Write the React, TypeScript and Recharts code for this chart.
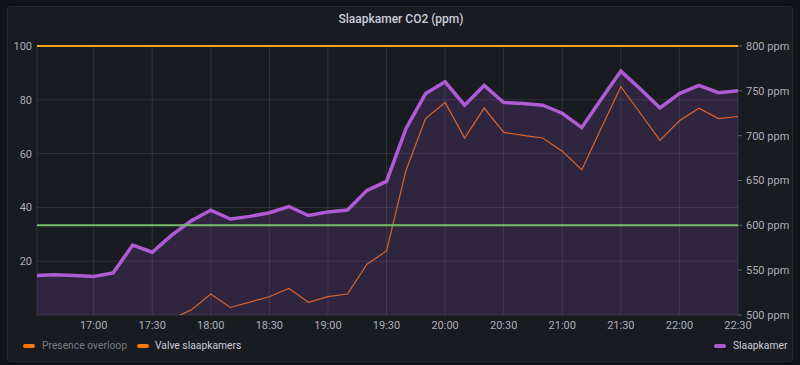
import {
  ComposedChart,
  Area,
  Line,
  XAxis,
  YAxis,
  CartesianGrid,
  ReferenceLine,
} from "recharts";

// sample times (10 min interval, first point is the edge of the range)
const times = [
  "16:31", "16:40", "16:50", "17:00", "17:10", "17:20", "17:30", "17:40", "17:50",
  "18:00", "18:10", "18:20", "18:30", "18:40", "18:50", "19:00", "19:10", "19:20",
  "19:30", "19:40", "19:50", "20:00", "20:10", "20:20", "20:30", "20:40", "20:50",
  "21:00", "21:10", "21:20", "21:30", "21:40", "21:50", "22:00", "22:10", "22:20",
  "22:30",
];

// Slaapkamer CO2 in ppm (right axis)
const slaapkamerPpm = [
  544, 545, 544, 543, 547, 578, 570, 589, 605,
  617, 607, 610, 614, 621, 611, 615, 617, 639,
  649, 708, 747, 760, 734, 756, 737, 736, 734,
  725, 709, 741, 772, 752, 731, 747, 756, 748,
  750,
];

// Valve slaapkamers in % (left axis)
const valveSlaapkamers: (number | null)[] = [
  null, null, null, null, null, null, null, -1.5, 1.9,
  7.8, 2.8, 4.8, 6.8, 9.9, 4.7, 6.8, 7.8, 18.9,
  23.8, 53.8, 73, 79, 65.8, 76.9, 67.9, 66.8, 65.8,
  60.9, 54, 69.5, 84.9, 75, 64.9, 72.2, 76.9, 73,
  73.8,
];

const xTickLabels = [
  "17:00", "17:30", "18:00", "18:30", "19:00", "19:30",
  "20:00", "20:30", "21:00", "21:30", "22:00", "22:30",
];
const leftTicks = [20, 40, 60, 80, 100];
const rightTicks = [500, 550, 600, 650, 700, 750, 800];
const thresholdsPpm = [800, 600];
const thresholdColors = ["#f2a41c", "#73bf69"];

const toMinutes = (hhmm: string) => {
  const [h, m] = hhmm.split(":").map(Number);
  return h * 60 + m;
};
const fmtTime = (v: number) =>
  `${Math.floor(v / 60)}:${String(v % 60).padStart(2, "0")}`;

const data = times.map((t, i) => ({
  t: toMinutes(t),
  co2: slaapkamerPpm[i],
  valve: valveSlaapkamers[i],
}));

const FONT = "Roboto, 'Noto Sans', sans-serif";
const TEXT = "#ccccdc";
const tickStyle = { fill: "rgba(204,204,220,0.85)", fontSize: 11, fontFamily: FONT };

function LegendItem({
  x,
  textX,
  color,
  label,
  dim,
}: {
  x: number;
  textX: number;
  color: string;
  label: string;
  dim?: boolean;
}) {
  return (
    <>
      <span
        style={{
          position: "absolute",
          left: x,
          top: 344,
          width: 12,
          height: 4,
          borderRadius: 2,
          background: color,
        }}
      />
      <span
        style={{
          position: "absolute",
          left: textX,
          top: 338,
          fontSize: 10.3,
          lineHeight: "16px",
          whiteSpace: "nowrap",
          color: dim ? "rgba(204,204,220,0.55)" : TEXT,
        }}
      >
        {label}
      </span>
    </>
  );
}

export default function App() {
  return (
    <div
      style={{
        position: "absolute",
        left: 0,
        top: 0,
        width: 800,
        height: 365,
        background: "#111217",
        fontFamily: FONT,
        overflow: "hidden",
      }}
    >
      <div
        style={{
          position: "absolute",
          left: 7,
          top: 6,
          width: 784,
          height: 354,
          background: "#181b1f",
          border: "1px solid #25272d",
          borderRadius: 3,
        }}
      />
      <div
        style={{
          position: "absolute",
          left: 0,
          top: 10,
          width: 802,
          textAlign: "center",
          color: TEXT,
          fontSize: 12,
          lineHeight: "18px",
          fontWeight: 500,
        }}
      >
        Slaapkamer CO2 (ppm)
      </div>
      <div style={{ position: "absolute", left: 0, top: 0 }}>
        <ComposedChart
          width={800}
          height={365}
          data={data}
          margin={{ top: 46, right: 0, bottom: 30, left: 0 }}
        >
          <CartesianGrid
            yAxisId="left"
            stroke="rgba(204,204,220,0.13)"
            strokeWidth={1}
          />
          <XAxis
            dataKey="t"
            type="number"
            domain={[toMinutes(times[0]), toMinutes(times[times.length - 1])]}
            ticks={xTickLabels.map(toMinutes)}
            tickFormatter={fmtTime}
            axisLine={false}
            tickLine={false}
            tickSize={0}
            tickMargin={6}
            height={20}
            tick={tickStyle}
            allowDataOverflow
          />
          <YAxis
            yAxisId="left"
            orientation="left"
            domain={[0, 100]}
            ticks={leftTicks}
            width={37}
            axisLine={false}
            tickLine={false}
            tickSize={0}
            tickMargin={5}
            tick={tickStyle}
            allowDataOverflow
          />
          <YAxis
            yAxisId="right"
            orientation="right"
            domain={[500, 800]}
            ticks={rightTicks}
            tickFormatter={(v: number) => `${v} ppm`}
            width={62}
            axisLine={false}
            tickLine={{ stroke: "rgba(204,204,220,0.4)" }}
            tickSize={4}
            tickMargin={4}
            tick={tickStyle}
            allowDataOverflow
          />
          <Area
            yAxisId="right"
            type="linear"
            dataKey="co2"
            stroke="#b05bd6"
            strokeWidth={3.5}
            fill="#a352cc"
            fillOpacity={0.18}
            isAnimationActive={false}
            dot={false}
            activeDot={false}
          />
          <Line
            yAxisId="left"
            type="linear"
            dataKey="valve"
            stroke="#dc652b"
            strokeWidth={1.2}
            dot={false}
            activeDot={false}
            isAnimationActive={false}
          />
          {thresholdsPpm.map((v, i) => (
            <ReferenceLine
              key={v}
              yAxisId="right"
              y={v}
              stroke={thresholdColors[i]}
              strokeWidth={2}
              ifOverflow="extendDomain"
            />
          ))}
        </ComposedChart>
      </div>
      <LegendItem x={23} textX={42} color="#ff780a" label="Presence overloop" dim />
      <LegendItem x={137} textX={155} color="#ff780a" label="Valve slaapkamers" />
      <LegendItem x={714} textX={733} color="#b05bd6" label="Slaapkamer" />
    </div>
  );
}
